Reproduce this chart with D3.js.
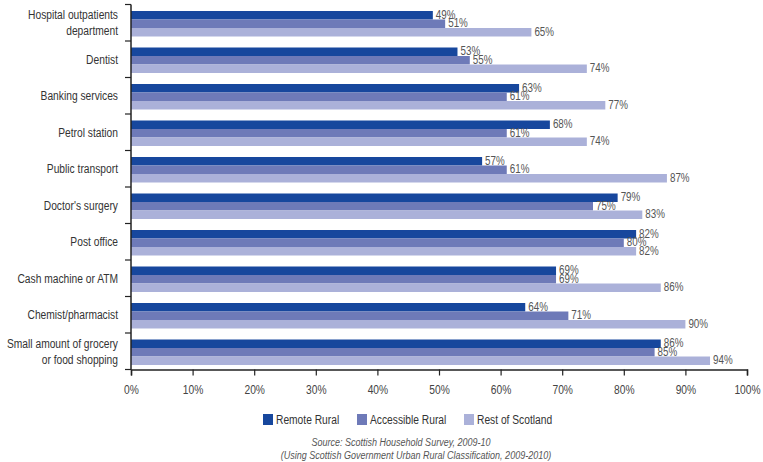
<!DOCTYPE html>
<html>
<head>
<meta charset="utf-8">
<script src="https://cdn.jsdelivr.net/npm/d3@7"></script>
<style>
  body { margin: 0; background: #fff; }
  svg text { font-family: "Liberation Sans", Arial, sans-serif; }
</style>
</head>
<body>
<div id="chart"></div>
<script>
var categories = [
  'Hospital outpatients|department',
  'Dentist',
  'Banking services',
  'Petrol station',
  'Public transport',
  "Doctor's surgery",
  'Post office',
  'Cash machine or ATM',
  'Chemist/pharmacist',
  'Small amount of grocery|or food shopping'
];
var series = ['Remote Rural', 'Accessible Rural', 'Rest of Scotland'];
var remoteRural = [49, 53, 63, 68, 57, 79, 82, 69, 64, 86];
var accessibleRural = [51, 55, 61, 61, 61, 75, 80, 69, 71, 85];
var restOfScotland = [65, 74, 77, 74, 87, 83, 82, 86, 90, 94];
var xTicks = [0, 10, 20, 30, 40, 50, 60, 70, 80, 90, 100];
var sourceLines = [
  'Source: Scottish Household Survey, 2009-10',
  '(Using Scottish Government Urban Rural Classification, 2009-2010)'
];

var seriesValues = [remoteRural, accessibleRural, restOfScotland];
var colors = ['#17479d', '#6e7ab8', '#abb1d9'];

var width = 763, height = 462;
var squeeze = 0.82; // condensed look, no narrow font available

function at(px, py) {
  return 'translate(' + px + ',' + py + ') scale(' + squeeze + ',1)';
}

var svg = d3.select('#chart').append('svg')
  .attr('width', width)
  .attr('height', height);

var x = d3.scaleLinear().domain([0, 100]).range([131, 747]);
var y0 = d3.scaleBand().domain(categories).range([4.5, 369.5]);
var y1 = d3.scaleBand().domain(series).range([6.5, 32]);
var color = d3.scaleOrdinal().domain(series).range(colors);

var data = categories.map(function(c, i) {
  return {
    name: c,
    values: series.map(function(s, j) { return {series: s, value: seriesValues[j][i]}; })
  };
});

var group = svg.selectAll('.group')
  .data(data)
  .enter()
  .append('g').attr('class', 'group')
  .attr('transform', function(d) { return 'translate(0,' + y0(d.name) + ')'; });

group.selectAll('rect')
  .data(function(d) { return d.values; })
  .enter()
  .append('rect')
  .attr('x', x(0))
  .attr('y', function(d) { return y1(d.series); })
  .attr('width', function(d) { return x(d.value) - x(0); })
  .attr('height', y1.bandwidth())
  .style('fill', function(d) { return color(d.series); });

group.selectAll('.val')
  .data(function(d) { return d.values; })
  .enter()
  .append('text').attr('class', 'val')
  .attr('transform', function(d) {
    return at(x(d.value) + 3, y1(d.series) + y1.bandwidth() / 2 - 0.5);
  })
  .attr('dy', '.35em')
  .style('font-size', '12px')
  .style('fill', '#555')
  .text(function(d) { return d.value + '%'; });

// category labels
group.append('text')
  .attr('text-anchor', 'end')
  .attr('transform', at(118, 0))
  .style('font-size', '12.5px')
  .style('fill', '#333')
  .each(function(d) {
    var lines = d.name.split('|');
    var t = d3.select(this);
    lines.forEach(function(l, k) {
      t.append('tspan')
        .attr('x', 0)
        .attr('y', y0.bandwidth() / 2 + (k - (lines.length - 1) / 2) * 16)
        .attr('dy', '.35em')
        .text(l);
    });
  });

// y axis line and ticks at band edges
var yAxis = svg.append('g').attr('class', 'y-axis');
yAxis.append('line')
  .attr('x1', x(0)).attr('x2', x(0))
  .attr('y1', y0.range()[0]).attr('y2', y0.range()[1])
  .style('stroke', '#222').style('stroke-width', 1.5);
var edges = categories.map(function(c) { return y0(c); }).concat([y0.range()[1]]);
yAxis.selectAll('.tick')
  .data(edges)
  .enter()
  .append('line')
  .attr('x1', x(0) - 6).attr('x2', x(0))
  .attr('y1', function(d) { return d; }).attr('y2', function(d) { return d; })
  .style('stroke', '#222').style('stroke-width', 1.2);

// x axis
var xAxis = svg.append('g')
  .attr('transform', 'translate(0,' + y0.range()[1] + ')')
  .call(d3.axisBottom(x).tickValues(xTicks).tickSize(6).tickPadding(10)
    .tickFormat(function(d) { return d + '%'; }));
xAxis.select('.domain').style('stroke', '#222').style('stroke-width', 1.5);
xAxis.selectAll('.tick line').style('stroke', '#222').style('stroke-width', 1.2);
xAxis.selectAll('.tick text')
  .attr('transform', 'scale(' + squeeze + ',1)')
  .style('font-family', '"Liberation Sans", Arial, sans-serif')
  .style('font-size', '12.5px')
  .style('fill', '#444');

// legend
var legendX = [263, 357, 464];
var legend = svg.selectAll('.legend')
  .data(series)
  .enter()
  .append('g').attr('class', 'legend')
  .attr('transform', function(d, i) { return 'translate(' + legendX[i] + ',414)'; });
legend.append('rect')
  .attr('width', 10).attr('height', 11)
  .style('fill', function(d) { return color(d); });
legend.append('text')
  .attr('transform', at(13, 5.5))
  .attr('dy', '.35em')
  .style('font-size', '12.5px')
  .style('fill', '#333')
  .text(function(d) { return d; });

// source
svg.selectAll('.source')
  .data(sourceLines)
  .enter()
  .append('text').attr('class', 'source')
  .attr('transform', function(d, i) { return at(i === 0 ? 401 : 416, 442 + i * 13); })
  .attr('dy', '.35em')
  .attr('text-anchor', 'middle')
  .style('font-size', '11px')
  .style('font-style', 'italic')
  .style('fill', '#555')
  .text(function(d) { return d; });
</script>
</body>
</html>
